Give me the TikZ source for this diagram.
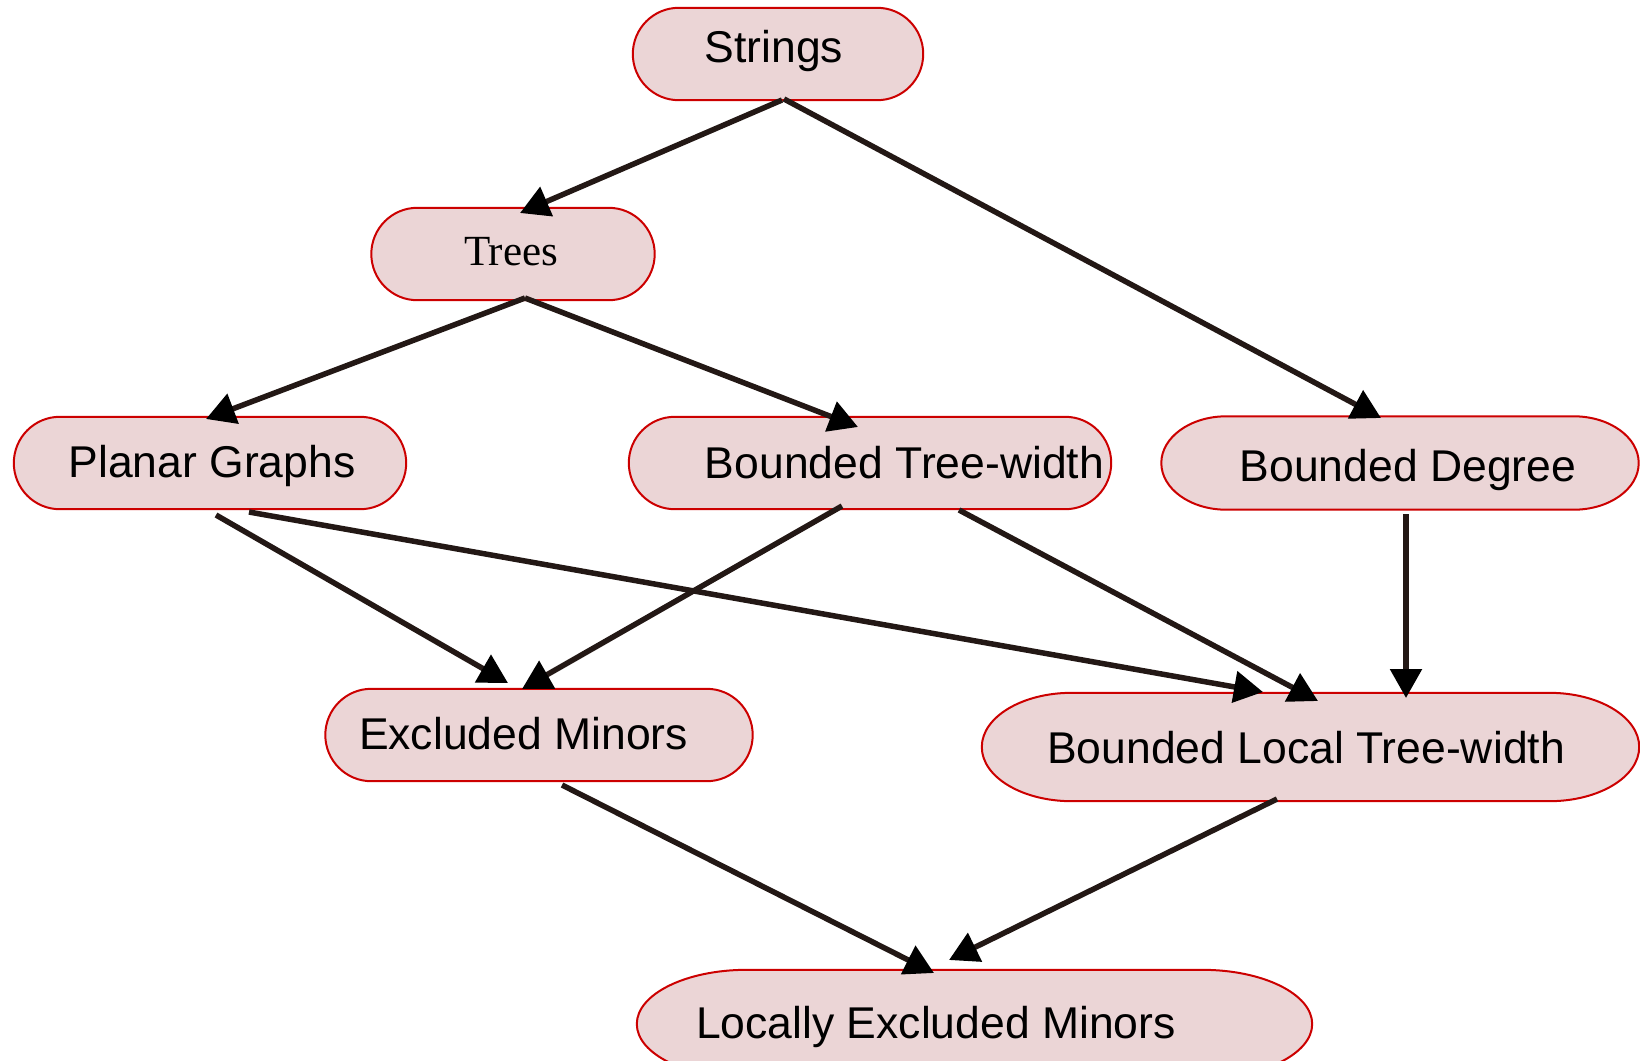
\documentclass[tikz,border=0pt]{standalone}
\usepackage{fontspec}
\setmainfont{Liberation Sans}
\newfontfamily\timesf{Liberation Serif}
\usetikzlibrary{arrows.meta,calc,backgrounds}
\definecolor{boxfill}{HTML}{EBD5D6}
\definecolor{boxline}{HTML}{CC0000}
\definecolor{edgecol}{HTML}{231815}
\newcommand{\stadbox}[2]{%
  \path[stadshape] let \p1=(#1.south west), \p2=(#1.north east) in
    (\x1+#2,\y1) -- (\x2-#2,\y1)
    arc[start angle=-90,end angle=90,x radius=#2,y radius={(\y2-\y1)/2}]
    -- (\x1+#2,\y2)
    arc[start angle=90,end angle=270,x radius=#2,y radius={(\y2-\y1)/2}]
    -- cycle;}
\tikzset{
  stadshape/.style={fill=boxfill, draw=boxline, line width=2pt},
  boxn/.style={rectangle, inner sep=0pt},
  lbl/.style={anchor=base, inner sep=0pt, font=\fontsize{44.5}{50}\selectfont},
  edge/.style={draw=edgecol, line width=5.5pt, -{Triangle[length=29pt,width=31pt,color=black]}}
}
\begin{document}
\begin{tikzpicture}[x=1pt,y=-1pt]
\useasboundingbox (0,0) rectangle (1640,1060);
% boxes
\node[boxn, minimum width=290pt, minimum height=92pt] (strings) at (778,54) {};
\node[boxn, minimum width=283pt, minimum height=92pt] (trees) at (513,254) {};
\node[boxn, minimum width=392pt, minimum height=92pt] (planar) at (210,463) {};
\node[boxn, minimum width=482pt, minimum height=92pt] (btw) at (870,463) {};
\node[boxn, minimum width=477pt, minimum height=93pt] (bdeg) at (1400,463) {};
\node[boxn, minimum width=427pt, minimum height=92pt] (em) at (539,735) {};
\node[boxn, minimum width=657pt, minimum height=108pt] (bltw) at (1310.5,747) {};
\node[boxn, minimum width=675pt, minimum height=108pt] (lem) at (974.5,1024) {};
\begin{pgfonlayer}{background}
\stadbox{strings}{46pt}
\stadbox{trees}{46pt}
\stadbox{planar}{46pt}
\stadbox{btw}{46pt}
\stadbox{bdeg}{65pt}
\stadbox{em}{46pt}
\stadbox{bltw}{90pt}
\stadbox{lem}{110pt}
\end{pgfonlayer}
% texts
\node[lbl] (strings-t) at (774,62) {Strings};
\node[lbl, font=\fontsize{43}{48}\selectfont\timesf] (trees-t) at (511,265) {Trees};
\node[lbl] (planar-t) at (212,477) {Planar Graphs};
\node[lbl] (btw-t) at (904.5,478) {Bounded Tree-width};
\node[lbl] (bdeg-t) at (1408,481) {Bounded Degree};
\node[lbl] (em-t) at (523.5,749) {Excluded Minors};
\node[lbl] (bltw-t) at (1306,763) {Bounded Local Tree-width};
\node[lbl] (lem-t) at (936,1038) {Locally Excluded Minors};
% edges
\draw[edge] ([shift={(4,46)}]strings.center) -- ([shift={(7,-41)}]trees.center);
\draw[edge] ([shift={(6,45)}]strings.center) -- ([shift={(-19,-45)}]bdeg.center);
\draw[edge] ([shift={(12,44)}]trees.center) -- ([shift={(-4,-44)}]planar.center);
\draw[edge] ([shift={(12,44)}]trees.center) -- ([shift={(-12,-36)}]btw.center);
\draw[edge] ([shift={(6,52)}]planar.center) -- ([shift={(-31,-52)}]em.center);
\draw[edge] ([shift={(39,49)}]planar.center) -- ([shift={(-47.5,-55)}]bltw.center);
\draw[edge] ([shift={(-28,43)}]btw.center) -- ([shift={(-17,-46)}]em.center);
\draw[edge] ([shift={(89,47)}]btw.center) -- ([shift={(7.5,-46)}]bltw.center);
\draw[edge] ([shift={(6,51)}]bdeg.center) -- ([shift={(95.5,-49)}]bltw.center);
\draw[edge] ([shift={(23,50)}]em.center) -- ([shift={(-40.5,-51)}]lem.center);
\draw[edge] ([shift={(-33.5,52)}]bltw.center) -- ([shift={(-25.5,-64)}]lem.center);
\end{tikzpicture}
\end{document}
